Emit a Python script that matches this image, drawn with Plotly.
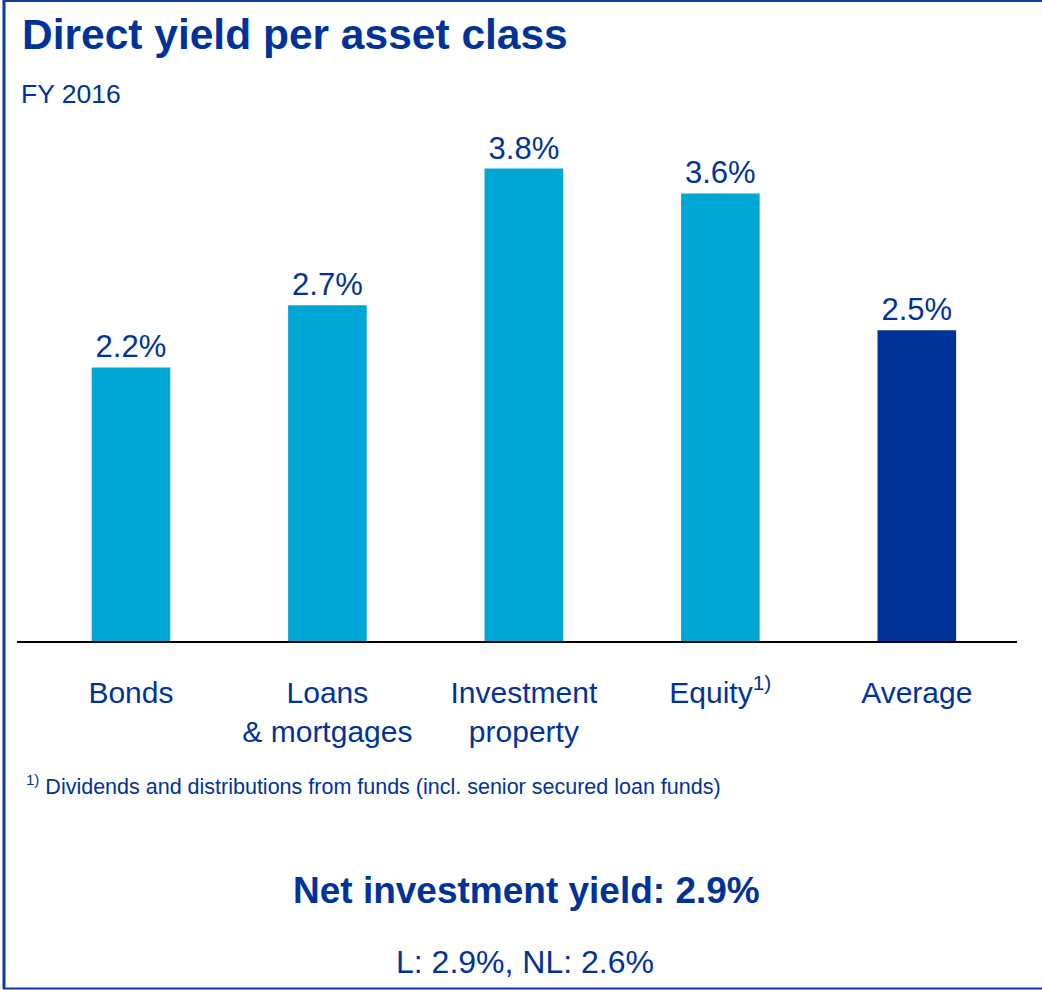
import plotly.graph_objects as go

categories = ["Bonds", "Loans<br>& mortgages", "Investment<br>property", "Equity<sup>1)</sup>", "Average"]
values = [2.2, 2.7, 3.8, 3.6, 2.5]
bar_colors = ["#00A6D6", "#00A6D6", "#00A6D6", "#00A6D6", "#003399"]

W, H = 1042, 990
L, R, T, B = 17, 1017, 130, 641
DARK = "#003399"
FONT = "Liberation Sans, Arial, sans-serif"

def px(x):
    return (x - L) / (R - L)

def py(y):
    return (B - y) / (B - T)

fig = go.Figure(go.Bar(
    x=list(range(len(categories))), y=values,
    marker=dict(color=bar_colors, line=dict(width=0)),
    width=0.4,
    texttemplate="%{y:.1f}%", textposition="outside",
    textfont=dict(size=31, color=DARK, family=FONT),
    cliponaxis=False, hoverinfo="skip",
))

fig.update_layout(
    width=W, height=H,
    margin=dict(l=L, r=W - R, t=T, b=H - B, autoexpand=False),
    paper_bgcolor="white", plot_bgcolor="white",
    showlegend=False,
    font=dict(family=FONT, color=DARK),
    xaxis=dict(
        range=[-0.58, 4.51], tickvals=list(range(len(categories))), ticktext=categories,
        showline=True, linecolor="black", linewidth=2, showgrid=False, zeroline=False,
        ticks="", tickfont=dict(size=30, color=DARK, family=FONT), ticklabelstandoff=24,
        fixedrange=True,
    ),
    yaxis=dict(range=[0, 4.11], visible=False, showgrid=False, zeroline=False, fixedrange=True),
)

annots = [
    dict(text="<b>Direct yield per asset class</b>", x=px(20), y=py(35), xanchor="left", yanchor="middle",
         font=dict(size=42.5, color=DARK)),
    dict(text="FY 2016", x=px(19), y=py(94), xanchor="left", yanchor="middle",
         font=dict(size=26.5, color=DARK)),
    dict(text="<sup>1)</sup> Dividends and distributions from funds (incl. senior secured loan funds)",
         x=px(24), y=py(785), xanchor="left", yanchor="middle", font=dict(size=21.5, color=DARK)),
    dict(text="<b>Net investment yield: 2.9%</b>", x=px(526), y=py(890), xanchor="center", yanchor="middle",
         font=dict(size=37, color=DARK)),
    dict(text="L: 2.9%, NL: 2.6%", x=px(525), y=py(962), xanchor="center", yanchor="middle",
         font=dict(size=32, color=DARK)),
]
for a in annots:
    a.update(xref="paper", yref="paper", showarrow=False)
fig.update_layout(annotations=annots)

BORDER = "#0D3A9E"
shapes = [
    dict(type="line", x0=px(4), x1=px(4), y0=py(0), y1=py(989), line=dict(color=BORDER, width=3)),
    dict(type="line", x0=px(3), x1=px(1042), y0=py(1), y1=py(1), line=dict(color=BORDER, width=2)),
    dict(type="line", x0=px(3), x1=px(1042), y0=py(988.5), y1=py(988.5), line=dict(color=BORDER, width=2)),
]
for s in shapes:
    s.update(xref="paper", yref="paper", layer="above")
fig.update_layout(shapes=shapes)

fig.write_html(
    "out.html",
    config={"displayModeBar": False, "staticPlot": True},
    post_script="document.body.style.margin='0';document.body.style.overflow='hidden';",
)
